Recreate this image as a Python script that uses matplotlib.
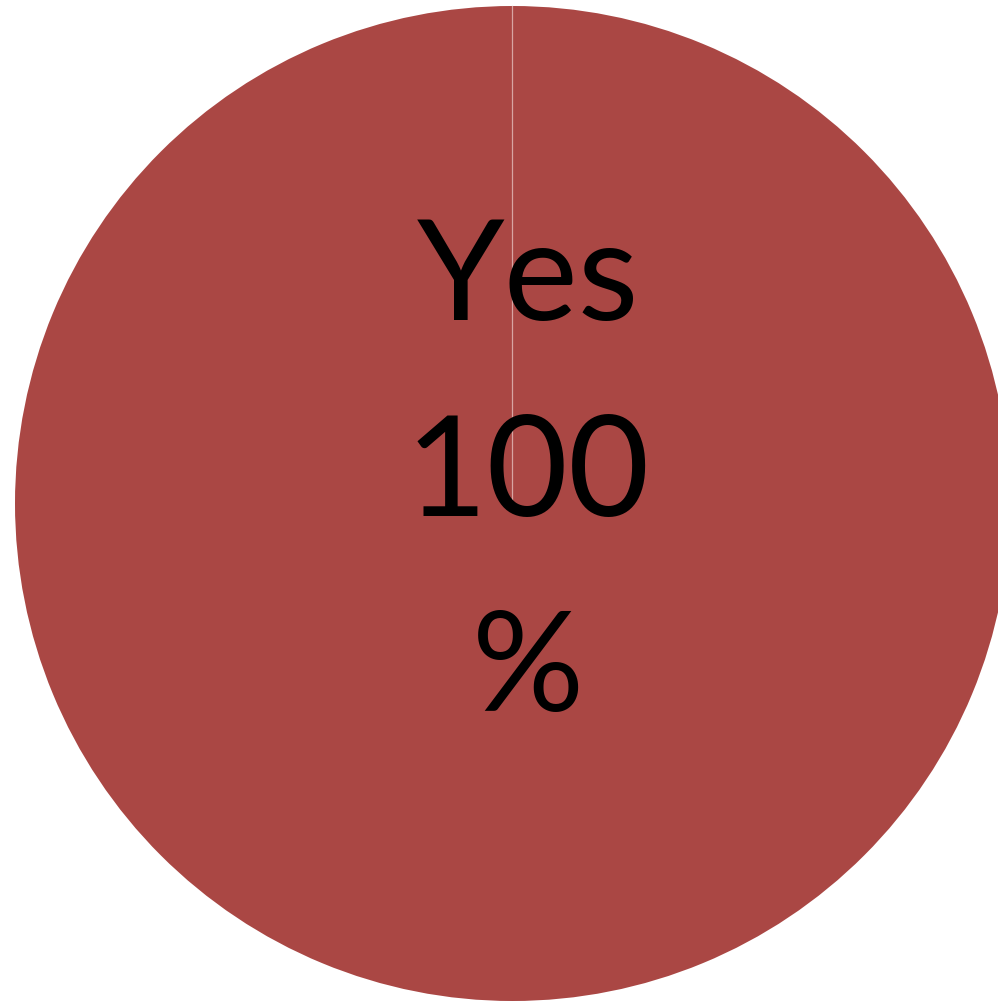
import matplotlib
matplotlib.use("Agg")
import matplotlib.pyplot as plt

# --- Data ---
categories = ["Yes"]
values = [100]
colors = ["#AA4744"]

W, H = 998, 1002
fig = plt.figure(figsize=(W / 100, H / 100), dpi=100)
ax = fig.add_axes([0, 0, 1, 1])

# pie drawn in pixel units so the circle lands where the reference has it
wedges, _ = ax.pie(values, colors=colors, startangle=90, counterclock=False,
                   radius=497.5, center=(512.5, H - 503.5),
                   wedgeprops=dict(edgecolor="none"))
ax.set_xlim(0, W)
ax.set_ylim(0, H)
ax.axis("off")

# a full 360 wedge has no radial edge, so draw the slice border at the start angle
cx, cy = wedges[0].center
r = wedges[0].r
ax.plot([cx, cx], [cy, cy + r], color="#D8A5A3", linewidth=0.9, zorder=3)

# label: category, value, percent sign wrapped onto its own line
label = f"{categories[0]}\n{values[0]}\n%"
ax.text(528, H - 476, label, ha="center", va="center", multialignment="center",
        fontsize=101, family=["Lato", "DejaVu Sans"], color="black",
        linespacing=1.665, zorder=4)

fig.savefig("out.png", dpi=100, facecolor="white")
